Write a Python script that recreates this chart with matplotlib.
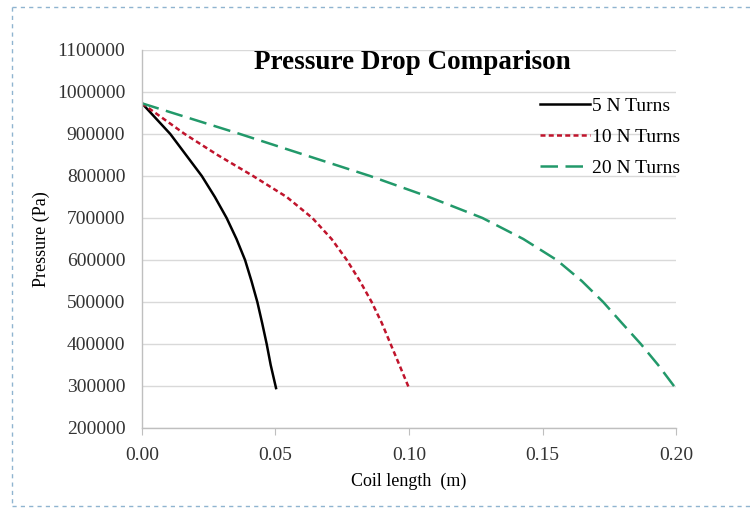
import matplotlib
matplotlib.use("Agg")
import matplotlib.pyplot as plt
from matplotlib.lines import Line2D

plt.rcParams['font.family'] = ['Liberation Serif', 'DejaVu Serif']

# pressure levels (Pa)
p_levels = [973000, 900000, 850000, 800000, 750000, 700000, 650000,
            600000, 550000, 500000, 450000, 400000, 350000, 295000]

# coil length (m) at each pressure level
x_5 = [0, 0.0106, 0.0165, 0.0224, 0.0273, 0.0317, 0.0354,
       0.0386, 0.0410, 0.0432, 0.0450, 0.0467, 0.0482, 0.0502]
x_10 = [0, 0.0160, 0.0283, 0.0416, 0.0542, 0.0638, 0.0710,
        0.0767, 0.0816, 0.0860, 0.0898, 0.0931, 0.0964, 0.1000]
x_20 = [0, 0.0367, 0.0610, 0.0854, 0.1075, 0.1275, 0.1428,
        0.1553, 0.1647, 0.1727, 0.1797, 0.1868, 0.1933, 0.1998]

labels = ["5 N Turns", "10 N Turns", "20 N Turns"]
x_ticks = [0.00, 0.05, 0.10, 0.15, 0.20]
y_ticks = list(range(200000, 1100001, 100000))

fig = plt.figure(figsize=(7.52, 5.08), dpi=100)
ax = fig.add_axes([0.1888, 0.1575, 0.7102, 0.7441])

ax.plot(x_5, p_levels, color='black', lw=1.8, label=labels[0])
ax.plot(x_10, p_levels, color='#C0142C', lw=1.8, linestyle=(0, (2, 1.3)), label=labels[1])
ax.plot(x_20, p_levels, color='#22996A', lw=1.8, linestyle=(0, (7, 3)), label=labels[2])

ax.set_xlim(0, 0.20)
ax.set_ylim(200000, 1100000)
ax.set_xticks(x_ticks)
ax.set_xticklabels(["%.2f" % t for t in x_ticks])
ax.set_yticks(y_ticks)
ax.set_yticklabels([str(t) for t in y_ticks])

ax.grid(axis='y', color='#D9D9D9', lw=1)
ax.set_axisbelow(True)
for s in ['top', 'right']:
    ax.spines[s].set_visible(False)
for s in ['left', 'bottom']:
    ax.spines[s].set_color('#BFBFBF')
    ax.spines[s].set_linewidth(1)

ax.tick_params(axis='x', direction='out', length=5, color='#BFBFBF', pad=9,
               labelsize=14, labelcolor='#333333')
ax.tick_params(axis='y', length=0, pad=12, labelsize=14, labelcolor='#333333')

ax.set_xlabel("Coil length  (m)", fontsize=13, labelpad=6)
ax.set_ylabel("Pressure (Pa)", fontsize=13, labelpad=5)

ax.text(0.5056, 0.968, "Pressure Drop Comparison", transform=ax.transAxes,
        ha='center', va='center', fontsize=19.5, fontweight='bold')

ax.legend(loc='upper right', bbox_to_anchor=(1.008, 0.874), frameon=False,
          fontsize=14, handlelength=2.6, handletextpad=0.1,
          labelspacing=0.68, borderpad=0, borderaxespad=0)

# dashed selection frame around the chart
frame_kw = dict(transform=fig.transFigure, color='#8FB4D0', lw=1, linestyle=(0, (3, 3)))
fig.add_artist(Line2D([12/752, 1.0], [1 - 7/508, 1 - 7/508], **frame_kw))
fig.add_artist(Line2D([12/752, 12/752], [1 - 7/508, 2/508], **frame_kw))
fig.add_artist(Line2D([12/752, 1.0], [2/508, 2/508], **frame_kw))

fig.savefig("out.png", dpi=100)
